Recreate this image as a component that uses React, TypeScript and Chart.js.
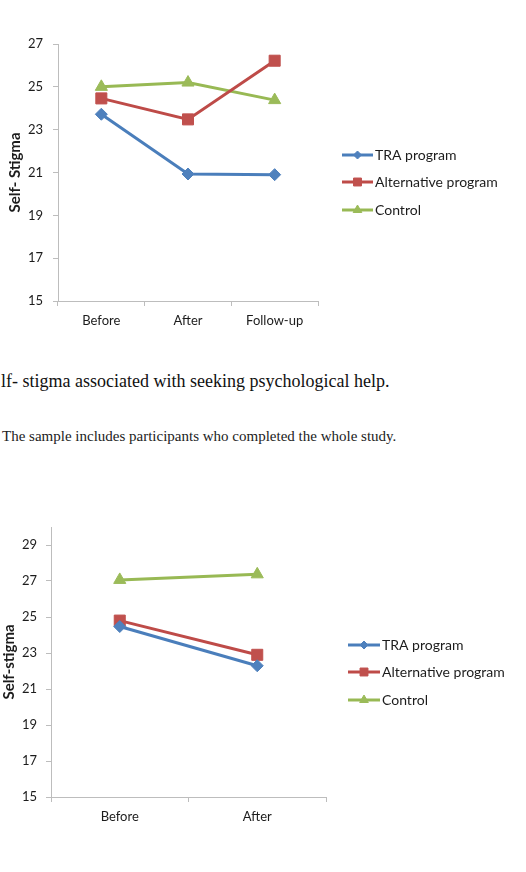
import React, { useEffect, useRef } from 'react';
import { Chart, registerables } from 'chart.js';
import { drawPoint } from 'chart.js/helpers';

Chart.register(...registerables);

// Figure A: three measurement points
const phasesA = ['Before', 'After', 'Follow-up'];
const traA = [23.72, 20.93, 20.9];
const altA = [24.46, 23.48, 26.22];
const controlA = [25.0, 25.2, 24.38];
const yTicksA = [15, 17, 19, 21, 23, 25, 27];

// Figure B: completers only, two measurement points
const phasesB = ['Before', 'After'];
const traB = [24.47, 22.29];
const altB = [24.8, 22.9];
const controlB = [27.06, 27.37];
const yTicksB = [15, 17, 19, 21, 23, 25, 27, 29];

const seriesNames = ['TRA program', 'Alternative program', 'Control'];

const AXIS = '#bdbdbd';
const TEXT = '#1c1c1c';
const FONT = 'Lato';

type Style = {
  line: string;
  fill: string;
  point: 'rectRot' | 'rect' | 'triangle';
  radius: number;
  legendRadius: number;
};

const styles: Style[] = [
  { line: '#4A7EBB', fill: '#4F81BD', point: 'rectRot', radius: 6, legendRadius: 4 },
  { line: '#BE4B48', fill: '#C0504D', point: 'rect', radius: 7.8, legendRadius: 5.6 },
  { line: '#98B954', fill: '#9BBB59', point: 'triangle', radius: 7, legendRadius: 5 },
];

type Geo = {
  top: number;
  height: number;
  padTop: number;
  padRight: number;
  padBottom: number;
  yWidth: number;
  xHeight: number;
  yPad: number;
  xPad: number;
  titlePad: number;
  legendX1: number;
  legendX2: number;
  legendTextX: number;
  legendRows: number[];
};

// Excel-style legend: a short line with the marker in its middle
const sideLegend = {
  id: 'sideLegend',
  afterDraw(chart: any, _args: any, opts: any) {
    const { ctx } = chart;
    const ds = chart.data.datasets;
    ctx.save();
    ds.forEach((d: any, i: number) => {
      const y = opts.rows[i];
      ctx.beginPath();
      ctx.strokeStyle = d.borderColor;
      ctx.lineWidth = 3;
      ctx.moveTo(opts.x1, y);
      ctx.lineTo(opts.x2, y);
      ctx.stroke();
      ctx.fillStyle = d.pointBackgroundColor;
      ctx.strokeStyle = d.pointBorderColor;
      ctx.lineWidth = 1;
      drawPoint(
        ctx,
        { pointStyle: d.pointStyle, radius: opts.radii[i], rotation: 0, borderWidth: 1 },
        (opts.x1 + opts.x2) / 2,
        y
      );
      ctx.fillStyle = TEXT;
      ctx.font = `14px ${FONT}`;
      ctx.textBaseline = 'middle';
      ctx.textAlign = 'left';
      ctx.fillText(d.label, opts.textX, y);
    });
    ctx.restore();
  },
};

function LineFigure(props: {
  labels: string[];
  values: number[][];
  yTicks: number[];
  yMin: number;
  yMax: number;
  yTitle: string;
  geo: Geo;
}) {
  const ref = useRef<HTMLCanvasElement>(null);
  const { labels, values, yTicks, yMin, yMax, yTitle, geo } = props;

  useEffect(() => {
    const chart = new Chart(ref.current as HTMLCanvasElement, {
      type: 'line',
      data: {
        labels,
        datasets: values.map((v, i) => ({
          label: seriesNames[i],
          data: v,
          borderColor: styles[i].line,
          backgroundColor: styles[i].fill,
          pointBackgroundColor: styles[i].fill,
          pointBorderColor: styles[i].fill,
          pointStyle: styles[i].point,
          pointRadius: styles[i].radius,
          pointBorderWidth: 1,
          borderWidth: 3,
          tension: 0,
          clip: false as any,
        })),
      },
      options: {
        responsive: false,
        animation: false,
        events: [],
        layout: {
          padding: { top: geo.padTop, right: geo.padRight, bottom: geo.padBottom, left: 0 },
        },
        plugins: {
          legend: { display: false },
          tooltip: { enabled: false },
          sideLegend: {
            x1: geo.legendX1,
            x2: geo.legendX2,
            textX: geo.legendTextX,
            rows: geo.legendRows,
            radii: styles.map((s) => s.legendRadius),
          },
        } as any,
        scales: {
          x: {
            offset: true,
            grid: {
              offset: true,
              drawOnChartArea: false,
              drawTicks: true,
              tickLength: 5,
              color: AXIS,
            },
            border: { color: AXIS, width: 1 },
            ticks: {
              color: TEXT,
              font: { family: FONT, size: 13 },
              padding: geo.xPad,
              maxRotation: 0,
            },
            afterFit: (s: any) => {
              s.height = geo.xHeight;
            },
          },
          y: {
            min: yMin,
            max: yMax,
            afterBuildTicks: (s: any) => {
              s.ticks = yTicks.map((v) => ({ value: v }));
            },
            grid: {
              drawOnChartArea: false,
              drawTicks: true,
              tickLength: 5,
              color: AXIS,
            },
            border: { color: AXIS, width: 1 },
            ticks: {
              color: TEXT,
              font: { family: FONT, size: 13 },
              padding: geo.yPad,
            },
            title: {
              display: true,
              text: yTitle,
              color: TEXT,
              font: { family: FONT, size: 15, weight: 'bold' },
              padding: { top: geo.titlePad, bottom: 0 },
            },
            afterFit: (s: any) => {
              s.width = geo.yWidth;
            },
          },
        },
      },
      plugins: [sideLegend],
    });
    return () => chart.destroy();
  }, []);

  return (
    <canvas
      ref={ref}
      width={526}
      height={geo.height}
      style={{ position: 'absolute', left: 0, top: geo.top, width: 526, height: geo.height }}
    />
  );
}

const geoA: Geo = {
  top: 0,
  height: 340,
  padTop: 44,
  padRight: 208,
  padBottom: 0,
  yWidth: 58,
  xHeight: 39,
  yPad: 10,
  xPad: 7,
  titlePad: 6,
  legendX1: 342,
  legendX2: 373,
  legendTextX: 375,
  legendRows: [155, 182, 210],
};

const geoB: Geo = {
  top: 480,
  height: 392,
  padTop: 47,
  padRight: 200,
  padBottom: 35,
  yWidth: 51,
  xHeight: 40,
  yPad: 9,
  xPad: 7,
  titlePad: 0.5,
  legendX1: 348,
  legendX2: 380,
  legendTextX: 382,
  legendRows: [165, 192, 220],
};

export default function App() {
  useEffect(() => {
    document.body.style.margin = '0';
  }, []);

  return (
    <div style={{ position: 'relative', width: 526, height: 872, background: '#fff', overflow: 'hidden' }}>
      <LineFigure
        labels={phasesA}
        values={[traA, altA, controlA]}
        yTicks={yTicksA}
        yMin={15}
        yMax={27}
        yTitle="Self- Stigma"
        geo={geoA}
      />
      <div
        style={{
          position: 'absolute',
          left: 1,
          top: 371,
          fontFamily: '"Liberation Serif", serif',
          fontSize: 18,
          lineHeight: '20px',
          color: '#111',
          whiteSpace: 'nowrap',
        }}
      >
        lf- stigma associated with seeking psychological help.
      </div>
      <div
        style={{
          position: 'absolute',
          left: 2,
          top: 428,
          fontFamily: '"Liberation Serif", serif',
          fontSize: 15,
          lineHeight: '17px',
          color: '#222',
          whiteSpace: 'nowrap',
        }}
      >
        The sample includes participants who completed the whole study.
      </div>
      <LineFigure
        labels={phasesB}
        values={[traB, altB, controlB]}
        yTicks={yTicksB}
        yMin={15}
        yMax={30}
        yTitle="Self-stigma"
        geo={geoB}
      />
    </div>
  );
}
